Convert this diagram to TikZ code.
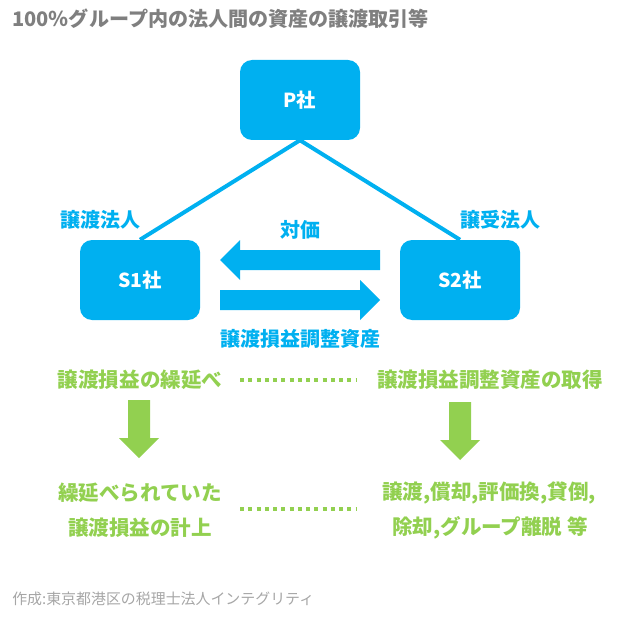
\documentclass[tikz,border=0pt]{standalone}
\usepackage{fontspec}
\setmainfont{Noto Sans CJK JP}
\definecolor{cblue}{RGB}{0,176,240}
\definecolor{cgreen}{RGB}{146,208,80}
\definecolor{ctitle}{RGB}{127,127,127}
\definecolor{cfoot}{RGB}{166,166,166}
\tikzset{
  corpbox/.style={rectangle, rounded corners=9pt, fill=cblue, minimum width=90pt, minimum height=60pt, inner sep=0pt, text=white, font=\bfseries\fontsize{14.5}{17}\selectfont},
  bluelabel/.style={text=cblue, inner sep=0pt, font=\bfseries\fontsize{15}{18}\selectfont},
  greenlabel/.style={text=cgreen, inner sep=0pt, font=\bfseries\fontsize{15.4}{18}\selectfont},
  link/.style={draw=cblue, line width=3pt},
  dotline/.style={draw=cgreen, line width=3pt, dash pattern=on 3pt off 3.2pt},
}
\begin{document}
\begin{tikzpicture}[x=0.75pt,y=-0.75pt]
\useasboundingbox (0,0) rectangle (620,620);
\node[anchor=west, inner sep=0pt, text=ctitle, font=\bfseries\fontsize{15.05}{18}\selectfont] (title) at (12,19) {100％グループ内の法人間の資産の譲渡取引等};
\node[corpbox] (P) at (300,100) {P社};
\node[corpbox] (S1) at (140,280) {S1社};
\node[corpbox] (S2) at (460,280) {S2社};
\draw[link] (P.south) -- (S1.north);
\draw[link] (P.south) -- (S2.north);
\node[bluelabel] (jt) at (100,220) {譲渡法人};
\node[bluelabel] (jj) at (500,220) {譲受法人};
\node[bluelabel] (tk) at (300,230) {対価};
\node[bluelabel] (jc) at (300,339) {譲渡損益調整資産};
% block arrows
\fill[cblue] (380,250) -- (240,250) -- (240,240) -- (220,260) -- (240,280) -- (240,270) -- (380,270) -- cycle;
\fill[cblue] (220,290) -- (360,290) -- (360,280) -- (380,300) -- (360,320) -- (360,310) -- (220,310) -- cycle;
% green texts
\node[greenlabel] (g1) at (140,380) {譲渡損益の繰延べ};
\node[greenlabel] (g2) at (490,380) {譲渡損益調整資産の取得};
\node[greenlabel] (g3) at (140,493) {繰延べられていた};
\node[greenlabel] (g4) at (140,528) {譲渡損益の計上};
\node[greenlabel] (g5) at (489,493) {譲渡,償却,評価換,貸倒,};
\node[greenlabel] (g6) at (490,528) {除却,グループ離脱 等};
\coordinate (d1a) at (240,380); \coordinate (d1b) at (356,380);
\coordinate (d2a) at (240,509); \coordinate (d2b) at (356,509);
\draw[dotline] (d1a) -- (d1b);
\draw[dotline] (d2a) -- (d2b);
% green down arrows
\fill[cgreen] (128,400) -- (150,400) -- (150,438) -- (159,438) -- (139,458) -- (119,438) -- (128,438) -- cycle;
\fill[cgreen] (449,402) -- (471,402) -- (471,440) -- (480,440) -- (460,460) -- (440,440) -- (449,440) -- cycle;
\node[anchor=west, inner sep=0pt, text=cfoot, font=\fontsize{11.2}{13}\selectfont] (foot) at (12,599) {作成:東京都港区の税理士法人インテグリティ};
\end{tikzpicture}
\end{document}
